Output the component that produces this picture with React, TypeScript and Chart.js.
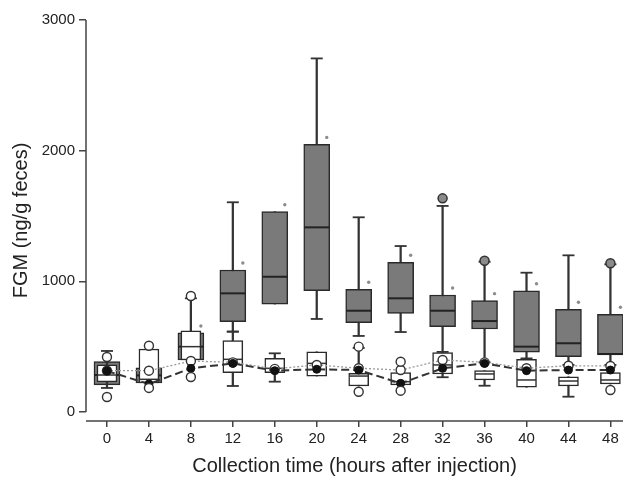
import React, { useEffect, useRef } from "react";
import { Chart, registerables } from "chart.js";

Chart.register(...registerables);

// Collection times (hours after injection)
const times = [0, 4, 8, 12, 16, 20, 24, 28, 32, 36, 40, 44, 48];
const xTicks = [0, 4, 8, 12, 16, 20, 24, 28, 32, 36, 40, 44, 48];
const yTicks = [0, 1000, 2000, 3000];

// Treatment group (grey boxes)
const grayMin = [207, 222, 398, 615, 826, 712, 582, 612, 460, 380, 410, 360, 360];
const grayQ1 = [207, 222, 398, 691, 826, 929, 683, 755, 653, 635, 457, 423, 436];
const grayMed = [283, 280, 500, 908, 1035, 1413, 775, 870, 775, 696, 500, 526, 444];
const grayQ3 = [385, 337, 605, 1087, 1533, 2048, 939, 1146, 895, 852, 928, 786, 748];
const grayMax = [385, 337, 605, 1605, 1533, 2706, 1490, 1270, 1577, 1150, 1066, 1199, 1130];
const grayOutT = [32, 36, 48];
const grayOutV = [1635, 1158, 1138];
const sigTimes = [8, 12, 16, 20, 24, 28, 32, 36, 40, 44, 48];

// Control group (white boxes)
const whiteMin = [184, 222, 398, 199, 232, 275, 199, 207, 266, 201, 189, 117, 214];
const whiteQ1 = [230, 222, 398, 301, 301, 275, 199, 207, 291, 245, 189, 199, 214];
const whiteMed = [283, 250, 500, 403, 334, 372, 275, 232, 360, 291, 245, 237, 245];
const whiteQ3 = [360, 482, 622, 546, 411, 461, 296, 301, 454, 316, 403, 270, 301];
const whiteMax = [467, 482, 870, 615, 449, 461, 490, 301, 454, 316, 403, 270, 301];
const whiteOutT = [0, 0, 4, 4, 8, 8, 24, 24, 28, 28, 48];
const whiteOutV = [421, 115, 507, 184, 888, 268, 500, 155, 385, 163, 168];

// Mean lines
const dashedMeans = [314, 214, 334, 372, 316, 327, 321, 219, 334, 372, 316, 321, 321];
const dottedMeans = [316, 316, 390, 380, 330, 360, 335, 321, 398, 380, 335, 354, 352];

const FONT = "'Liberation Sans', Arial, Helvetica, sans-serif";
const TEXT = "#222222";
const AXIS = "#444444";

function pts(xs: number[], ys: number[]) {
  return xs.map((x, i) => ({ x, y: ys[i] }));
}

function capPoints(box: number[], ends: number[]) {
  const out: { x: number; y: number }[] = [];
  times.forEach((t, i) => {
    if (ends[i] !== box[i]) out.push({ x: t, y: ends[i] });
  });
  return out;
}

const axisLinesPlugin = {
  id: "axisLines",
  afterDraw(chart: any) {
    const { ctx, chartArea, scales } = chart;
    const y = scales.y;
    ctx.save();
    ctx.strokeStyle = AXIS;
    ctx.lineWidth = 1.5;
    ctx.beginPath();
    ctx.moveTo(chartArea.left, y.getPixelForValue(yTicks[yTicks.length - 1]));
    ctx.lineTo(chartArea.left, y.getPixelForValue(yTicks[0]));
    ctx.stroke();
    ctx.beginPath();
    ctx.moveTo(chartArea.left, chartArea.bottom);
    ctx.lineTo(chartArea.right, chartArea.bottom);
    ctx.stroke();
    ctx.restore();
  },
};

const asteriskPlugin = {
  id: "asterisks",
  afterDatasetsDraw(chart: any) {
    const { ctx, scales } = chart;
    ctx.save();
    ctx.fillStyle = "#8c8c8c";
    sigTimes.forEach((t) => {
      const i = times.indexOf(t);
      const px = scales.x.getPixelForValue(t) + 10;
      const py = scales.y.getPixelForValue(grayQ3[i]) - 7;
      ctx.beginPath();
      ctx.arc(px, py, 1.7, 0, Math.PI * 2);
      ctx.fill();
    });
    ctx.restore();
  },
};

export default function App() {
  const ref = useRef<HTMLCanvasElement | null>(null);

  useEffect(() => {
    if (!ref.current) return;
    const barBase = { grouped: false, borderSkipped: false as const };
    const chart = new Chart(ref.current, {
      type: "bar",
      data: {
        datasets: [
          {
            ...barBase,
            type: "bar",
            order: 100,
            data: times.map((t, i) => ({ x: t, y: [grayMin[i], grayMax[i]] })) as any,
            barThickness: 1.6,
            backgroundColor: "#333333",
            borderWidth: 0,
          },
          {
            ...barBase,
            type: "bar",
            order: 99,
            data: times.map((t, i) => ({ x: t, y: [grayQ1[i], grayQ3[i]] })) as any,
            barThickness: 26,
            backgroundColor: "#7a7a7a",
            borderColor: "#2a2a2a",
            borderWidth: 1.5,
          },
          {
            type: "line",
            order: 98,
            showLine: false,
            data: [...capPoints(grayQ1, grayMin), ...capPoints(grayQ3, grayMax)],
            pointStyle: "line",
            pointRadius: 6,
            pointBorderWidth: 1.8,
            pointBorderColor: "#333333",
          },
          {
            type: "line",
            order: 97,
            showLine: false,
            data: pts(times, grayMed),
            pointStyle: "line",
            pointRadius: 12.5,
            pointBorderWidth: 2,
            pointBorderColor: "#222222",
          },
          {
            ...barBase,
            type: "bar",
            order: 90,
            data: times.map((t, i) => ({ x: t, y: [whiteMin[i], whiteMax[i]] })) as any,
            barThickness: 1.6,
            backgroundColor: "#333333",
            borderWidth: 0,
          },
          {
            ...barBase,
            type: "bar",
            order: 89,
            data: times.map((t, i) => ({ x: t, y: [whiteQ1[i], whiteQ3[i]] })) as any,
            barThickness: 20,
            backgroundColor: "#ffffff",
            borderColor: "#2a2a2a",
            borderWidth: 1.5,
          },
          {
            type: "line",
            order: 88,
            showLine: false,
            data: [...capPoints(whiteQ1, whiteMin), ...capPoints(whiteQ3, whiteMax)],
            pointStyle: "line",
            pointRadius: 6,
            pointBorderWidth: 1.8,
            pointBorderColor: "#333333",
          },
          {
            type: "line",
            order: 87,
            showLine: false,
            data: pts(times, whiteMed),
            pointStyle: "line",
            pointRadius: 9.5,
            pointBorderWidth: 1.5,
            pointBorderColor: "#333333",
          },
          {
            type: "line",
            order: 80,
            showLine: false,
            data: pts(grayOutT, grayOutV),
            pointStyle: "circle",
            pointRadius: 4.5,
            pointBackgroundColor: "#8a8a8a",
            pointBorderColor: "#333333",
            pointBorderWidth: 1.5,
          },
          {
            type: "line",
            order: 70,
            data: pts(times, dottedMeans),
            borderColor: "#9a9a9a",
            borderWidth: 1.3,
            borderDash: [2, 2],
            pointRadius: 4.5,
            pointBackgroundColor: "#ffffff",
            pointBorderColor: "#333333",
            pointBorderWidth: 1.4,
          },
          {
            type: "line",
            order: 60,
            data: pts(times, dashedMeans),
            borderColor: "#333333",
            borderWidth: 2,
            borderDash: [8, 4],
            pointRadius: 4,
            pointBackgroundColor: "#111111",
            pointBorderColor: "#111111",
            pointBorderWidth: 1,
          },
          {
            type: "line",
            order: 50,
            showLine: false,
            data: pts(whiteOutT, whiteOutV),
            pointStyle: "circle",
            pointRadius: 4.5,
            pointBackgroundColor: "#ffffff",
            pointBorderColor: "#333333",
            pointBorderWidth: 1.4,
          },
        ] as any,
      },
      options: {
        animation: false,
        responsive: false,
        maintainAspectRatio: false,
        layout: { autoPadding: false, padding: { top: 20, right: 2, left: 0, bottom: 0 } },
        plugins: { legend: { display: false }, tooltip: { enabled: false } },
        scales: {
          x: {
            type: "linear",
            min: -2,
            max: 49.2,
            offset: false,
            afterBuildTicks: (s: any) => {
              s.ticks = xTicks.map((v) => ({ value: v }));
            },
            afterFit: (s: any) => {
              s.height = 61;
              s.paddingLeft = 0;
              s.paddingRight = 0;
            },
            border: { display: false },
            grid: {
              display: true,
              drawOnChartArea: false,
              drawTicks: true,
              tickLength: 6,
              color: AXIS,
              lineWidth: 1.5,
              offset: false,
            },
            ticks: {
              padding: 3,
              color: TEXT,
              font: { family: FONT, size: 15 },
              maxRotation: 0,
              autoSkip: false,
              callback: (v: any) => String(v),
            },
            title: {
              display: true,
              text: "Collection time (hours after injection)",
              color: TEXT,
              font: { family: FONT, size: 20 },
              padding: { top: 0, bottom: 4 },
            },
          },
          y: {
            type: "linear",
            min: -69,
            max: 3000,
            afterBuildTicks: (s: any) => {
              s.ticks = yTicks.map((v) => ({ value: v }));
            },
            afterFit: (s: any) => {
              s.width = 86;
            },
            border: { display: false },
            grid: {
              display: true,
              drawOnChartArea: false,
              drawTicks: true,
              tickLength: 7,
              color: AXIS,
              lineWidth: 1.5,
            },
            ticks: {
              padding: 4,
              color: TEXT,
              font: { family: FONT, size: 15 },
              callback: (v: any) => String(v),
            },
            title: {
              display: true,
              text: "FGM (ng/g feces)",
              color: TEXT,
              font: { family: FONT, size: 20 },
              padding: { top: 9, bottom: 0 },
            },
          },
        },
      } as any,
      plugins: [axisLinesPlugin, asteriskPlugin],
    });
    return () => chart.destroy();
  }, []);

  return (
    <div style={{ position: "absolute", left: 0, top: 0, width: 625, height: 482, background: "#fff" }}>
      <canvas ref={ref} width={625} height={482} style={{ width: 625, height: 482 }} />
    </div>
  );
}
